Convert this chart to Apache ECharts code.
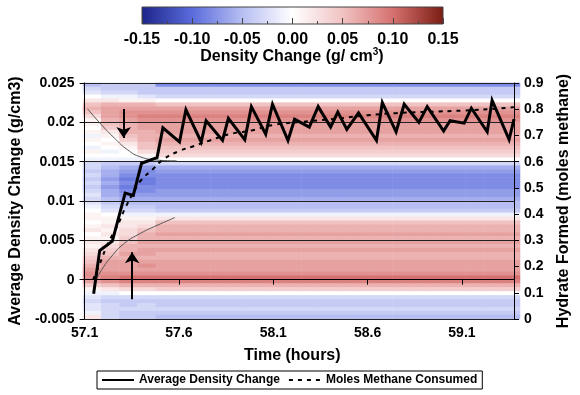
<!DOCTYPE html>
<html>
<head>
<meta charset="utf-8">
<title>Density Change</title>
<script src="https://cdn.jsdelivr.net/npm/echarts@6/dist/echarts.min.js"></script>
<style>
html, body { margin: 0; padding: 0; background: #fff; }
#chartDiv { width: 580px; height: 395px; }
</style>
</head>
<body>
<div id="chartDiv"></div>
<script>
// average density change (g/cm3) against time (hours)
var densityTime = [57.148, 57.180, 57.247, 57.315, 57.358, 57.402, 57.484, 57.515, 57.603, 57.637,
    57.718, 57.744, 57.831, 57.862, 57.949, 57.984, 58.060, 58.096, 58.178, 58.213,
    58.291, 58.338, 58.404, 58.442, 58.490, 58.552, 58.647, 58.678, 58.751, 58.794,
    58.872, 58.916, 59.003, 59.037, 59.112, 59.150, 59.234, 59.260, 59.350, 59.376];
var densityValue = [-0.0018, 0.0037, 0.0049, 0.0110, 0.0107, 0.0148, 0.0155, 0.0193, 0.0175, 0.0216,
    0.0175, 0.0202, 0.0177, 0.0205, 0.0178, 0.0220, 0.0185, 0.0223, 0.0177, 0.0204,
    0.0194, 0.0220, 0.0194, 0.0213, 0.0191, 0.0212, 0.0177, 0.0225, 0.0188, 0.0223,
    0.0200, 0.0220, 0.0189, 0.0202, 0.0199, 0.0218, 0.0188, 0.0228, 0.0178, 0.0204];

// moles methane consumed (right axis)
var methaneTime = [57.145, 57.180, 57.225, 57.270, 57.320, 57.365, 57.400, 57.460, 57.520, 57.600,
    57.680, 57.760, 57.870, 57.990, 58.100, 58.300, 58.450, 58.600, 58.750, 58.920,
    59.110, 59.300, 59.376];
var methaneMoles = [0.15, 0.21, 0.29, 0.35, 0.43, 0.49, 0.53, 0.57, 0.61, 0.64,
    0.66, 0.68, 0.705, 0.72, 0.74, 0.755, 0.765, 0.777, 0.785, 0.79,
    0.795, 0.803, 0.808];

// thin guide curves
var upperEdgeTime = [57.116, 57.189, 57.258, 57.328, 57.397, 57.484, 57.588];
var upperEdgeValue = [0.0217, 0.0197, 0.0180, 0.0165, 0.0156, 0.0152, 0.0151];
var lowerEdgeTime = [57.154, 57.189, 57.241, 57.310, 57.397, 57.484, 57.579];
var lowerEdgeValue = [-0.0003, 0.0012, 0.0029, 0.0046, 0.0059, 0.0069, 0.0079];

// arrows [time, start, end]
var arrowDown = [57.307, 0.0217, 0.0180];
var arrowUp = [57.352, -0.0025, 0.0035];

var timeTicks = [57.1, 57.6, 58.1, 58.6, 59.1];
var timeMin = 57.1;
var timeMax = 59.376;

// background density change in hundredths of g/cm3, rows from 0.025 down to -0.005 (0.0005 each)
var bgCol0 = [-5, -3, -2, 0, 2, 5, 6, 5, 3, 1, 1, 0, 1, -1, 1, 0, -1, 1, 0, -1,
    -3, -3, -4, -3, -4, -3, -4, -3, -2, -3, -2, -1, 0, 1, 1, 0, 1, 2, 0, 1,
    2, 1, 2, 3, 4, 5, 6, 7, 8, 8, 7, 4, 1, -1, -2, -3, -2, -2, -1, 2];
var bgCol1 = [-4, -4, -3, -1, 2, 6, 7, 7, 7, 6, 5, 4, 2, 1, 0, 1, 0, -1, 0, -1,
    -4, -5, -6, -6, -7, -6, -7, -6, -6, -5, -4, -3, -2, 0, 1, 1, 2, 1, 2, 1,
    2, 3, 4, 5, 6, 7, 7, 7, 8, 9, 8, 5, 2, -1, -3, -4, -3, -3, -3, -3];
var bgCol2 = [-4, -4, -3, -1, 1, 6, 7, 8, 8, 7, 6, 6, 6, 5, 4, 2, 1, 0, 0, -1,
    -4, -6, -7, -8, -9, -8, -9, -8, -7, -6, -5, -4, -3, -1, 1, 2, 2, 3, 3, 4,
    5, 6, 6, 7, 6, 7, 7, 7, 8, 10, 9, 6, 3, 0, -3, -4, -4, -3, -4, -4];
var bgCol3 = [-4, -4, -4, -2, 1, 6, 7, 8, 9, 8, 7, 7, 6, 6, 6, 5, 5, 3, 1, -1,
    -4, -7, -8, -8, -9, -9, -8, -8, -7, -6, -5, -4, -3, -1, 1, 2, 3, 5, 6, 6,
    7, 6, 7, 7, 6, 7, 8, 7, 8, 10, 9, 6, 3, 0, -3, -4, -3, -3, -4, -4];
var bgSteady = [-8, -4, -4, -3, 0, 5, 7, 8, 9, 8, 7, 7, 7, 6, 7, 6, 5, 4, 3, 0,
    -3, -6, -7, -8, -8, -8, -8, -7, -7, -6, -5, -5, -4, -1, 2, 5, 6, 6, 7, 6,
    7, 6, 7, 6, 6, 7, 7, 7, 8, 10, 9, 6, 4, 0, -3, -4, -4, -3, -4, -5];
var bgColumnCount = 24;

var colorStops = ['#1c2488', '#5a6bdc', '#b6bef2', '#ffffff', '#f1c2c2', '#d5716f', '#7a1c12'];

// tiny stand-in for the extend helper
var $ = { extend: function (dst) {
    for (var i = 1; i < arguments.length; i++) {
        for (var key in arguments[i]) dst[key] = arguments[i][key];
    }
    return dst;
} };

var HYDRATE = {
    init: function () {
        var chart = echarts.init(document.getElementById('chartDiv'));
        chart.setOption(HYDRATE.buildOption());
    },
    pairs: function (xs, ys) {
        var out = [];
        for (var i = 0; i < xs.length; i++) out.push([xs[i], ys[i]]);
        return out;
    },
    heatData: function () {
        var early = [bgCol0, bgCol1, bgCol2, bgCol3];
        var data = [];
        for (var c = 0; c < bgColumnCount; c++) {
            var prof = early[c] || bgSteady;
            for (var r = 0; r < prof.length; r++) data.push([c, r, prof[r] / 100]);
        }
        return data;
    },
    buildOption: function () {
        var cols = [], rows = [];
        for (var c = 0; c < bgColumnCount; c++) cols.push(c);
        for (var r = 0; r < bgSteady.length; r++) rows.push(r);

        var gradStops = [];
        for (var k = 0; k < colorStops.length; k++) {
            gradStops.push({ offset: k / (colorStops.length - 1), color: colorStops[k] });
        }
        var bold = { fontFamily: 'Liberation Sans, Arial, sans-serif', fontWeight: 'bold', color: '#000' };
        var plotBox = { left: 83, top: 83, width: 437, height: 236 };

        return {
            animation: false,
            textStyle: { fontFamily: 'Liberation Sans, Arial, sans-serif' },
            grid: [
                $.extend({}, plotBox),
                $.extend({}, plotBox),
                {
                    left: 142, top: 7, width: 301, height: 17, show: true,
                    borderColor: '#444', borderWidth: 1,
                    backgroundColor: { type: 'linear', x: 0, y: 0, x2: 1, y2: 0, colorStops: gradStops }
                }
            ],
            visualMap: {
                show: false, type: 'continuous', seriesIndex: 0,
                min: -0.15, max: 0.15, inRange: { color: colorStops }
            },
            legend: {
                data: ['Average Density Change', 'Moles Methane Consumed'],
                left: 97, top: 371, padding: [3, 5, 3, 4], itemGap: 8,
                itemWidth: 32, itemHeight: 12, selectedMode: false,
                borderColor: '#000', borderWidth: 1,
                itemStyle: { opacity: 0 },
                textStyle: $.extend({ fontSize: 12 }, bold)
            },
            graphic: [{
                type: 'text', x: 292, y: 57,
                style: {
                    text: 'Density Change (g/ cm{sup|3})',
                    align: 'center', verticalAlign: 'middle',
                    font: 'bold 16px "Liberation Sans", Arial, sans-serif', fill: '#000',
                    rich: { sup: { fontSize: 10, fontWeight: 'bold', padding: [0, 0, 9, 0] } }
                }
            }],
            xAxis: [
                {
                    type: 'value', gridIndex: 0, min: timeMin, max: timeMax, z: 2,
                    axisLine: { show: true, lineStyle: { color: '#000', width: 1 } },
                    axisTick: { show: true, customValues: timeTicks, length: 5, lineStyle: { color: '#000' } },
                    axisLabel: $.extend({ customValues: timeTicks, fontSize: 14, margin: 7,
                        formatter: function (v) { return v.toFixed(1); } }, bold),
                    splitLine: { show: false },
                    name: 'Time (hours)', nameLocation: 'middle', nameGap: 29,
                    nameTextStyle: $.extend({ fontSize: 16, padding: [0, 14, 0, 0] }, bold)
                },
                { type: 'category', gridIndex: 1, data: cols, show: false, boundaryGap: true },
                {
                    type: 'value', gridIndex: 2, min: -0.15, max: 0.15, interval: 0.05,
                    axisLine: { show: false },
                    axisTick: { show: true, inside: true, length: 6, lineStyle: { color: '#444' } },
                    minorTick: { show: true, splitNumber: 2, length: 3, lineStyle: { color: '#444' } },
                    axisLabel: $.extend({ fontSize: 16, margin: 8,
                        formatter: function (v) { return Math.abs(v) < 1e-9 ? '0.00' : v.toFixed(2); } }, bold),
                    splitLine: { show: false }
                }
            ],
            yAxis: [
                {
                    type: 'value', gridIndex: 0, min: -0.005, max: 0.025, interval: 0.005, z: 2,
                    axisLine: { show: true, lineStyle: { color: '#000', width: 1 } },
                    axisTick: { show: true, length: 5, lineStyle: { color: '#000' } },
                    axisLabel: $.extend({ fontSize: 14, margin: 10 }, bold),
                    splitLine: { show: true, lineStyle: { color: '#222', width: 1 } },
                    name: 'Average Density Change (g/cm3)', nameLocation: 'middle', nameGap: 60, nameRotate: 90,
                    nameTextStyle: $.extend({ fontSize: 16 }, bold)
                },
                {
                    type: 'value', gridIndex: 0, position: 'right', min: 0, max: 0.9, interval: 0.1, z: 2,
                    axisLine: { show: true, lineStyle: { color: '#000', width: 1 } },
                    axisTick: { show: true, length: 5, lineStyle: { color: '#000' } },
                    axisLabel: $.extend({ fontSize: 14, margin: 10 }, bold),
                    splitLine: { show: false },
                    name: 'Hydrate Formed (moles methane)', nameLocation: 'middle', nameGap: 42, nameRotate: 90,
                    nameTextStyle: $.extend({ fontSize: 16 }, bold)
                },
                { type: 'category', gridIndex: 1, data: rows, inverse: true, show: false, boundaryGap: true },
                { type: 'value', gridIndex: 2, show: false }
            ],
            series: [
                {
                    type: 'heatmap', xAxisIndex: 1, yAxisIndex: 2, z: 1, silent: true,
                    data: HYDRATE.heatData()
                },
                {
                    name: 'Average Density Change', type: 'line', xAxisIndex: 0, yAxisIndex: 0, z: 5,
                    symbol: 'none', silent: true,
                    lineStyle: { color: '#000', width: 3, join: 'miter' },
                    itemStyle: { color: '#000' },
                    data: HYDRATE.pairs(densityTime, densityValue)
                },
                {
                    name: 'Moles Methane Consumed', type: 'line', xAxisIndex: 0, yAxisIndex: 1, z: 4,
                    symbol: 'none', smooth: true, silent: true,
                    lineStyle: { color: '#000', width: 2, type: [4, 5] },
                    itemStyle: { color: '#000' },
                    data: HYDRATE.pairs(methaneTime, methaneMoles)
                },
                {
                    type: 'line', xAxisIndex: 0, yAxisIndex: 0, z: 3, symbol: 'none', smooth: true, silent: true,
                    lineStyle: { color: '#555', width: 1 },
                    data: HYDRATE.pairs(upperEdgeTime, upperEdgeValue)
                },
                {
                    type: 'line', xAxisIndex: 0, yAxisIndex: 0, z: 3, symbol: 'none', smooth: true, silent: true,
                    lineStyle: { color: '#555', width: 1 },
                    data: HYDRATE.pairs(lowerEdgeTime, lowerEdgeValue)
                },
                {
                    type: 'lines', coordinateSystem: 'cartesian2d', xAxisIndex: 0, yAxisIndex: 0, z: 3, silent: true,
                    symbol: ['none', 'arrow'], symbolSize: 11,
                    lineStyle: { color: '#000', width: 2, opacity: 1 },
                    data: [
                        { coords: [[arrowDown[0], arrowDown[1]], [arrowDown[0], arrowDown[2]]] },
                        { coords: [[arrowUp[0], arrowUp[1]], [arrowUp[0], arrowUp[2]]] }
                    ]
                }
            ]
        };
    }
};

HYDRATE.init();
</script>
</body>
</html>
